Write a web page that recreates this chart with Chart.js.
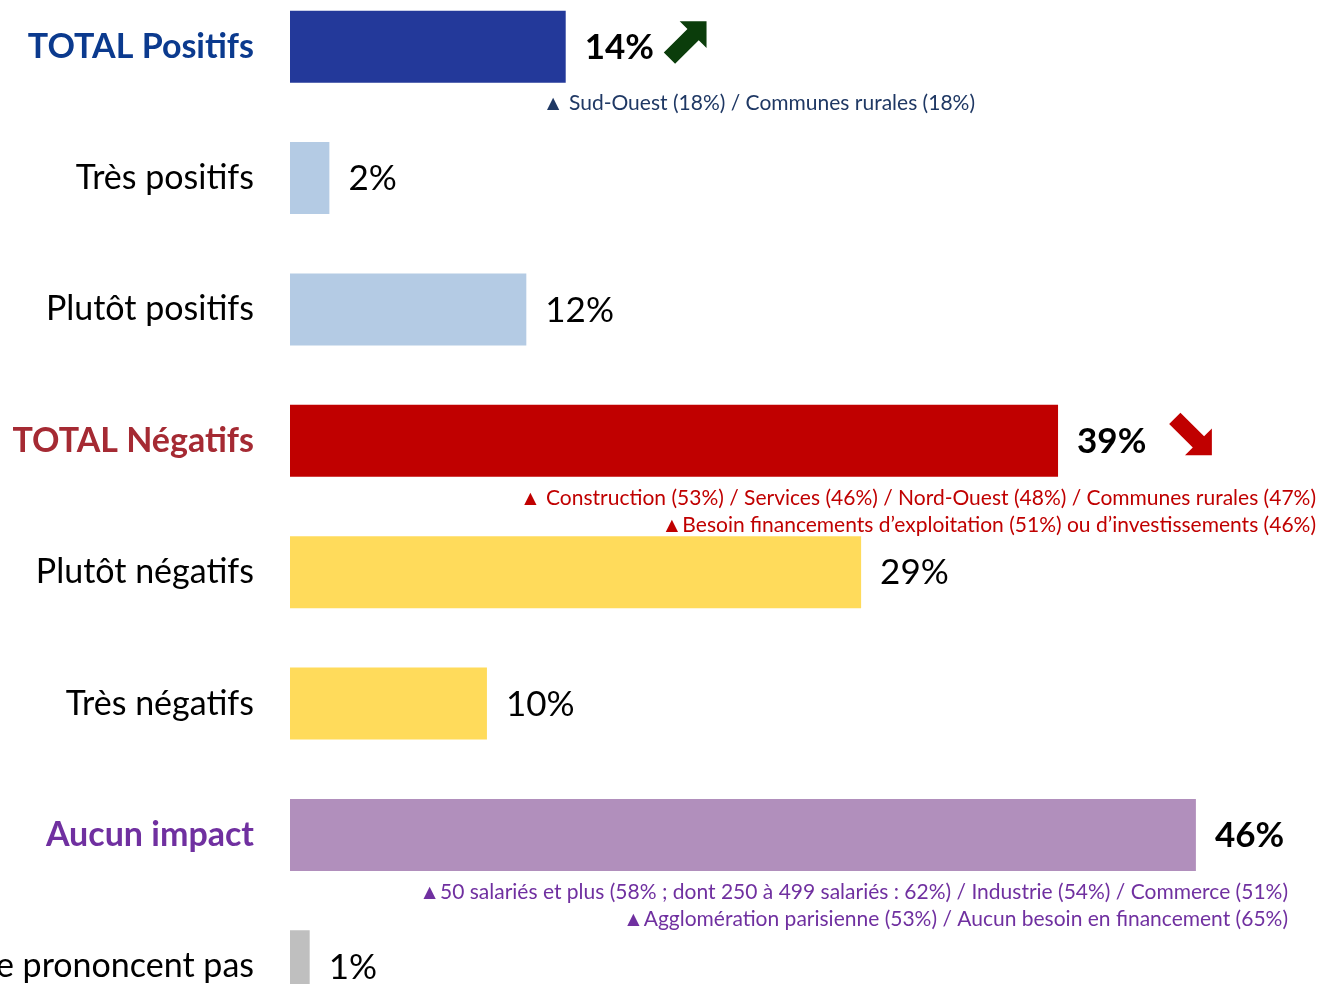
<!DOCTYPE html>
<html lang="fr">
<head>
    <meta charset="UTF-8">
    <title>Impact</title>
    <script src="https://cdn.jsdelivr.net/npm/chart.js"></script>
    <style>
        html, body { margin: 0; padding: 0; background: #fff; overflow: hidden; width: 1318px; height: 984px; }
        #wrap { position: absolute; left: -300px; top: -19px; width: 1618px; height: 1051px; }
    </style>
</head>
<body>
    <div id="wrap"><canvas id="impactChart" width="1618" height="1051"></canvas></div>

    <script>
        // data
        const categories = ['TOTAL Positifs', 'Très positifs', 'Plutôt positifs', 'TOTAL Négatifs',
                            'Plutôt négatifs', 'Très négatifs', 'Aucun impact', 'Ne se prononcent pas'];
        const values = [14, 2, 12, 39, 29, 10, 46, 1];
        const valueLabels = ['14%', '2%', '12%', '39%', '29%', '10%', '46%', '1%'];
        const trends = ['up', null, null, 'down', null, null, null, null];
        const notes = [
            ['▲ Sud-Ouest (18%) / Communes rurales (18%)'],
            [], [],
            ['▲ Construction (53%) / Services (46%) / Nord-Ouest (48%) / Communes rurales (47%)',
             '▲Besoin financements d’exploitation (51%) ou d’investissements (46%)'],
            [], [],
            ['▲50 salariés et plus (58% ; dont 250 à 499 salariés : 62%) / Industrie (54%) / Commerce (51%)',
             '▲Agglomération parisienne (53%) / Aucun besoin en financement (65%)'],
            []
        ];

        // styles
        const FONT = 'Lato, "Open Sans", sans-serif';
        const barColors = ['#23399A', '#B4CBE4', '#B4CBE4', '#C00000', '#FFDB5B', '#FFDB5B', '#B18FBC', '#BFBFBF'];
        const labelColors = ['#0B3A8E', '#000', '#000', '#A52A33', '#000', '#000', '#7030A0', '#000'];
        const noteColors = ['#1F3864', null, null, '#C00000', null, null, '#7030A0', null];
        const boldRows = [true, false, false, true, false, false, true, false];
        const noteRight = [-343, 0, 0, -2, 0, 0, -30, 0]; // offset from chart right edge
        const arrowGap = [34, 0, 0, 47, 0, 0, 0, 0];
        const arrowDy = [-7, 0, 0, -4, 0, 0, 0, 0];

        function drawArrow(ctx, x, y, size, dir, color) {
            // x,y = centre of the arrow box
            const L = size * 1.38, h = size * 0.5, w = size * 0.42;
            ctx.save();
            ctx.translate(x, y);
            ctx.rotate(dir === 'up' ? -Math.PI / 4 : Math.PI / 4);
            ctx.fillStyle = color;
            ctx.beginPath();
            ctx.moveTo(-L / 2, -w / 2);
            ctx.lineTo(L / 2 - h, -w / 2);
            ctx.lineTo(L / 2 - h, -h);
            ctx.lineTo(L / 2, 0);
            ctx.lineTo(L / 2 - h, h);
            ctx.lineTo(L / 2 - h, w / 2);
            ctx.lineTo(-L / 2, w / 2);
            ctx.closePath();
            ctx.fill();
            ctx.restore();
        }

        const barText = {
            id: 'barText',
            afterDatasetsDraw(chart) {
                const ctx = chart.ctx;
                const meta = chart.getDatasetMeta(0);
                const area = chart.chartArea;
                meta.data.forEach((bar, i) => {
                    ctx.save();
                    ctx.fillStyle = '#000';
                    ctx.font = (boldRows[i] ? 'bold ' : '') + '35px ' + FONT;
                    ctx.textAlign = 'left';
                    ctx.textBaseline = 'middle';
                    const tx = bar.x + 19;
                    ctx.fillText(valueLabels[i], tx, bar.y + 1);
                    const tw = ctx.measureText(valueLabels[i]).width;
                    if (trends[i]) {
                        drawArrow(ctx, tx + tw + arrowGap[i], bar.y + arrowDy[i], 38, trends[i],
                                  trends[i] === 'up' ? '#0B3D0B' : '#C00000');
                    }
                    ctx.font = '21px ' + FONT;
                    ctx.textAlign = 'right';
                    ctx.fillStyle = noteColors[i] || '#000';
                    notes[i].forEach((t, k) => {
                        ctx.fillText(t, area.right + noteRight[i], bar.y + bar.height / 2 + 21 + k * 27);
                    });
                    ctx.restore();
                });
            }
        };

        new Chart(document.getElementById('impactChart'), {
            type: 'bar',
            data: {
                labels: categories,
                datasets: [{
                    data: values,
                    backgroundColor: barColors,
                    borderWidth: 0,
                    categoryPercentage: 1,
                    barPercentage: 0.548
                }]
            },
            options: {
                indexAxis: 'y',
                responsive: false,
                animation: false,
                layout: { padding: 0 },
                plugins: { legend: { display: false }, tooltip: { enabled: false } },
                scales: {
                    x: { display: false, min: 0, max: 52.2 },
                    y: {
                        afterFit(scale) {
                            scale.width = 590;
                            scale.paddingTop = 0;
                            scale.paddingBottom = 0;
                        },
                        grid: { display: false, drawTicks: false },
                        border: { display: false },
                        ticks: {
                            padding: 36,
                            color: ctx => labelColors[ctx.index],
                            font: ctx => ({ family: FONT, size: 34, weight: boldRows[ctx.index] ? 'bold' : 'normal' })
                        }
                    }
                }
            },
            plugins: [barText]
        });
    </script>
</body>
</html>
